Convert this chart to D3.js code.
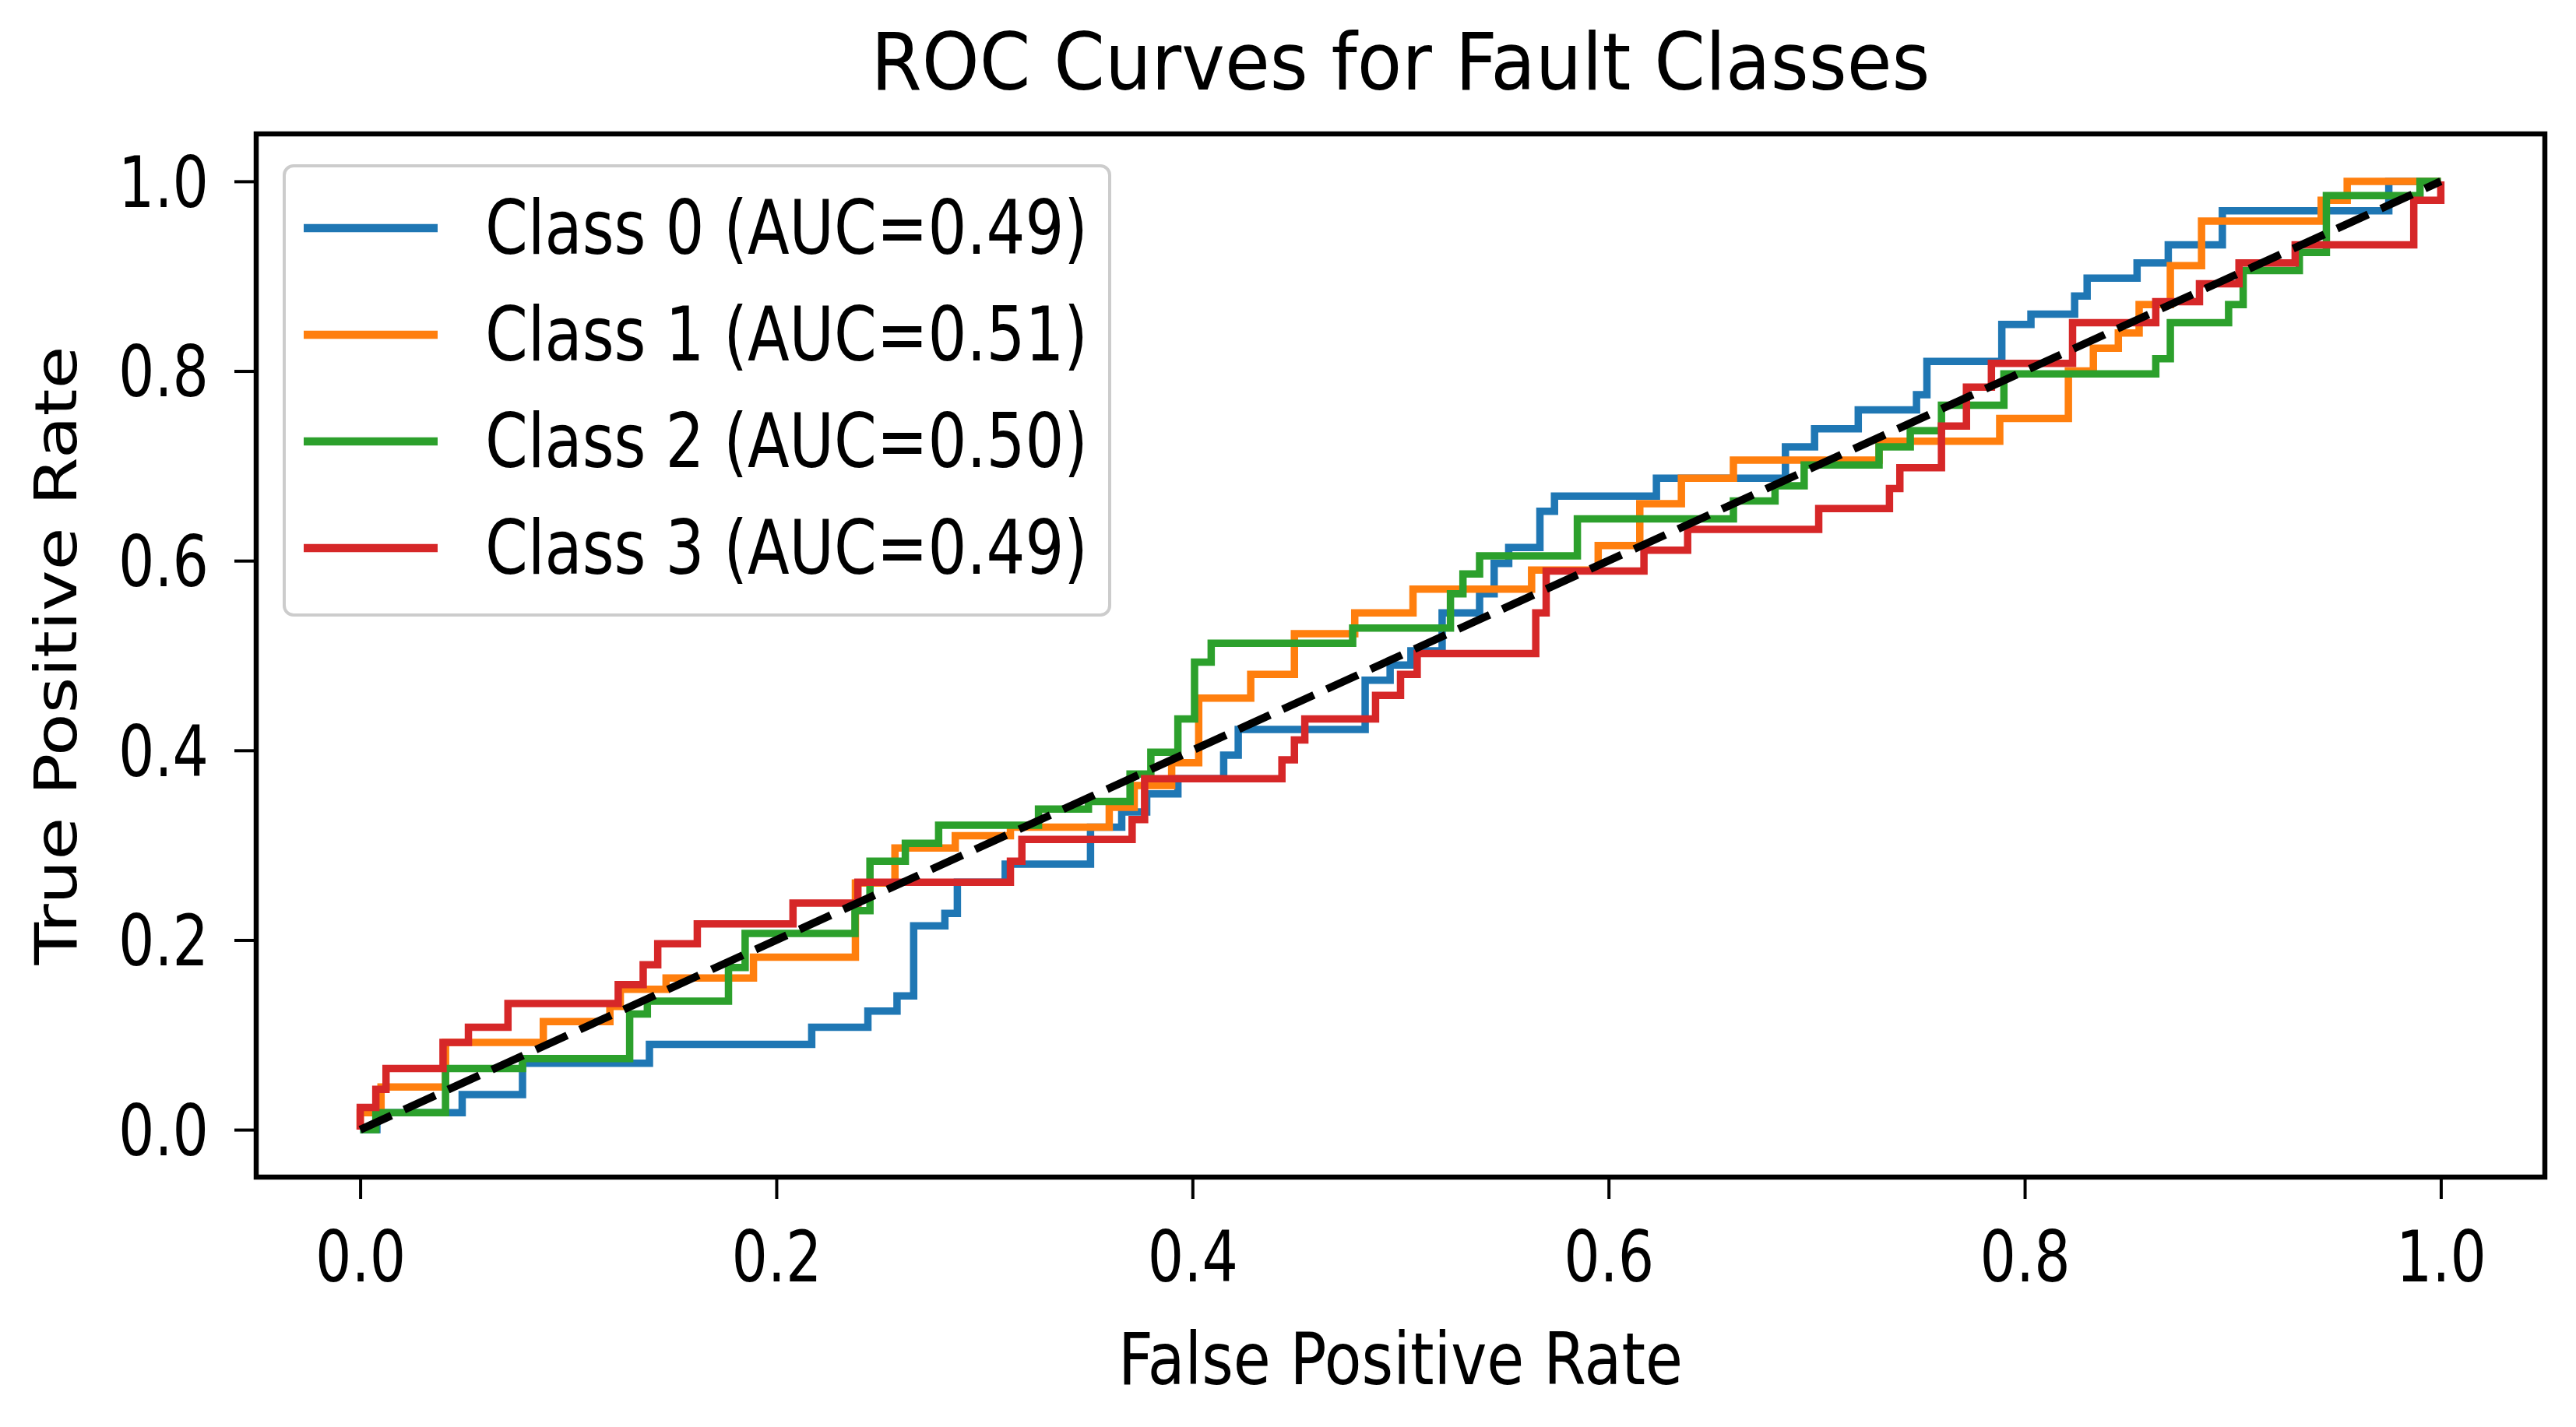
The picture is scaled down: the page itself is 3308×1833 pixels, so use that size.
<!DOCTYPE html>
<html>
<head>
<meta charset="utf-8">
<script src="https://cdn.jsdelivr.net/npm/d3@7"></script>
<style>
  html, body { margin: 0; padding: 0; background: #ffffff; }
  svg { display: block; }
  text { font-family: "DejaVu Sans", sans-serif; fill: #000; }
</style>
</head>
<body>
<svg id="chart" width="3308" height="1833"></svg>
<script>
// ---------- data (step ROC curves: at each xs[i] the curve jumps up to ys[i]) ----------
const classNames = ["Class 0 (AUC=0.49)", "Class 1 (AUC=0.51)", "Class 2 (AUC=0.50)", "Class 3 (AUC=0.49)"];
const classColors = ["#1f77b4", "#ff7f0e", "#2ca02c", "#d62728"];

const class0Fpr = [0.008, 0.049, 0.078, 0.139, 0.217, 0.244, 0.258, 0.266, 0.281, 0.287, 0.31, 0.351, 0.366, 0.378, 0.393, 0.415, 0.422, 0.483, 0.495, 0.505, 0.52, 0.538, 0.545, 0.552, 0.567, 0.574, 0.623, 0.685, 0.699, 0.72, 0.748, 0.753, 0.789, 0.803, 0.824, 0.83, 0.854, 0.869, 0.895, 0.975];
const class0Tpr = [0.018, 0.037, 0.070, 0.09, 0.108, 0.125, 0.141, 0.215, 0.228, 0.261, 0.280, 0.319, 0.335, 0.354, 0.37, 0.395, 0.422, 0.474, 0.49, 0.505, 0.545, 0.565, 0.597, 0.614, 0.652, 0.668, 0.687, 0.72, 0.739, 0.759, 0.775, 0.810, 0.849, 0.860, 0.879, 0.898, 0.914, 0.933, 0.969, 1.0];

const class1Fpr = [0, 0.01, 0.041, 0.088, 0.12, 0.125, 0.147, 0.189, 0.238, 0.257, 0.286, 0.3125, 0.36, 0.372, 0.39, 0.403, 0.428, 0.449, 0.478, 0.506, 0.563, 0.595, 0.615, 0.635, 0.660, 0.73, 0.788, 0.821, 0.833, 0.845, 0.855, 0.87, 0.885, 0.9425, 0.955];
const class1Tpr = [0.018, 0.045, 0.092, 0.114, 0.13, 0.148, 0.16, 0.182, 0.26, 0.297, 0.31, 0.319, 0.34, 0.363, 0.387, 0.455, 0.48, 0.523, 0.545, 0.570, 0.59, 0.616, 0.660, 0.687, 0.706, 0.726, 0.750, 0.80, 0.824, 0.84, 0.87, 0.911, 0.958, 0.98, 1.0];

const class2Fpr = [0.0075, 0.041, 0.078, 0.1295, 0.138, 0.177, 0.185, 0.2378, 0.245, 0.262, 0.278, 0.326, 0.35, 0.370, 0.380, 0.393, 0.401, 0.409, 0.477, 0.524, 0.53, 0.538, 0.585, 0.66, 0.68, 0.694, 0.73, 0.745, 0.76, 0.79, 0.863, 0.870, 0.898, 0.905, 0.932, 0.945, 0.99];
const class2Tpr = [0.018, 0.0645, 0.075, 0.122, 0.1355, 0.171, 0.207, 0.231, 0.283, 0.302, 0.321, 0.338, 0.346, 0.375, 0.398, 0.433, 0.493, 0.513, 0.529, 0.565, 0.586, 0.605, 0.644, 0.663, 0.679, 0.701, 0.72, 0.737, 0.764, 0.797, 0.813, 0.851, 0.870, 0.906, 0.925, 0.985, 1.0];

const class3Fpr = [0, 0.0075, 0.0124, 0.0398, 0.052, 0.071, 0.124, 0.136, 0.143, 0.162, 0.208, 0.2392, 0.3125, 0.318, 0.371, 0.377, 0.443, 0.449, 0.454, 0.488, 0.500, 0.508, 0.565, 0.570, 0.617, 0.638, 0.701, 0.735, 0.740, 0.760, 0.772, 0.784, 0.823, 0.863, 0.884, 0.903, 0.930, 0.987, 1.0];
const class3Tpr = [0.0235, 0.0426, 0.0645, 0.092, 0.108, 0.133, 0.153, 0.174, 0.196, 0.217, 0.239, 0.261, 0.283, 0.306, 0.327, 0.370, 0.39, 0.411, 0.433, 0.458, 0.480, 0.502, 0.545, 0.589, 0.611, 0.633, 0.655, 0.676, 0.698, 0.742, 0.783, 0.808, 0.851, 0.873, 0.892, 0.914, 0.933, 0.98, 1.0];

const chanceLine = [[0, 0], [1, 1]];
const xTicks = [0.0, 0.2, 0.4, 0.6, 0.8, 1.0];
const yTicks = [0.0, 0.2, 0.4, 0.6, 0.8, 1.0];
const titleText = "ROC Curves for Fault Classes";
const xLabelText = "False Positive Rate";
const yLabelText = "True Positive Rate";

// ---------- build step paths ----------
function stepPoints(fpr, tpr) {
  const pts = [[0, 0]];
  let prev = 0;
  for (let i = 0; i < fpr.length; i++) {
    pts.push([fpr[i], prev]);
    pts.push([fpr[i], tpr[i]]);
    prev = tpr[i];
  }
  pts.push([1, prev]);
  return pts;
}
const series = [
  stepPoints(class0Fpr, class0Tpr),
  stepPoints(class1Fpr, class1Tpr),
  stepPoints(class2Fpr, class2Tpr),
  stepPoints(class3Fpr, class3Tpr)
];

// ---------- layout ----------
const L = 329, R = 3268, T = 172, B = 1512;
const svg = d3.select("#chart");
const x = d3.scaleLinear().domain([-0.05, 1.05]).range([L, R]);
const y = d3.scaleLinear().domain([-0.05, 1.05]).range([B, T]);

const line = d3.line().x(d => x(d[0])).y(d => y(d[1]));

const plot = svg.append("g");
series.forEach((pts, i) => {
  plot.append("path")
    .attr("d", line(pts))
    .attr("fill", "none")
    .attr("stroke", classColors[i])
    .attr("stroke-width", 9.5)
    .attr("stroke-linejoin", "miter");
});
plot.append("path")
  .attr("d", line(chanceLine))
  .attr("fill", "none")
  .attr("stroke", "#000")
  .attr("stroke-width", 10)
  .attr("stroke-dasharray", "44,18");

// ---------- axes ----------
const fmt = d3.format(".1f");
const gx = svg.append("g").attr("transform", `translate(0,${B})`)
  .call(d3.axisBottom(x).tickValues(xTicks).tickSize(28).tickFormat(fmt));
gx.select(".domain").remove();
gx.selectAll(".tick line").attr("stroke", "#000").attr("stroke-width", 4);
gx.selectAll(".tick text")
  .attr("y", 134).attr("dy", 0)
  .attr("font-size", 90)
  .attr("font-family", "DejaVu Sans")
  .attr("textLength", 116).attr("lengthAdjust", "spacingAndGlyphs");

const gy = svg.append("g").attr("transform", `translate(${L},0)`)
  .call(d3.axisLeft(y).tickValues(yTicks).tickSize(28).tickFormat(fmt));
gy.select(".domain").remove();
gy.selectAll(".tick line").attr("stroke", "#000").attr("stroke-width", 4);
gy.selectAll(".tick text")
  .attr("x", -61).attr("dy", "0.36em")
  .attr("font-size", 90)
  .attr("font-family", "DejaVu Sans")
  .attr("textLength", 116).attr("lengthAdjust", "spacingAndGlyphs");

// frame
svg.append("rect")
  .attr("x", L).attr("y", T).attr("width", R - L).attr("height", B - T)
  .attr("fill", "none").attr("stroke", "#000").attr("stroke-width", 6.5);

// ---------- legend ----------
const lg = svg.append("g");
lg.append("rect")
  .attr("x", 365).attr("y", 213).attr("width", 1060).attr("height", 577)
  .attr("rx", 12).attr("ry", 12)
  .attr("fill", "#ffffff").attr("fill-opacity", 0.8)
  .attr("stroke", "#cccccc").attr("stroke-width", 4);
classNames.forEach((name, i) => {
  const cy = 293 + i * 137;
  lg.append("line")
    .attr("x1", 390).attr("x2", 562).attr("y1", cy).attr("y2", cy)
    .attr("stroke", classColors[i]).attr("stroke-width", 10.5);
  lg.append("text")
    .attr("x", 623).attr("y", cy + 33)
    .attr("font-size", 97)
    .attr("textLength", 774).attr("lengthAdjust", "spacingAndGlyphs")
    .text(name);
});

// ---------- titles ----------
svg.append("text")
  .attr("x", (L + R) / 2).attr("y", 115)
  .attr("text-anchor", "middle")
  .attr("font-size", 101)
  .attr("textLength", 1360).attr("lengthAdjust", "spacingAndGlyphs")
  .text(titleText);

svg.append("text")
  .attr("x", (L + R) / 2).attr("y", 1778)
  .attr("text-anchor", "middle")
  .attr("font-size", 92)
  .attr("textLength", 725).attr("lengthAdjust", "spacingAndGlyphs")
  .text(xLabelText);

svg.append("text")
  .attr("transform", `translate(98,${(T + B) / 2}) scale(0.8,1) rotate(-90)`)
  .attr("text-anchor", "middle")
  .attr("font-size", 94)
  .attr("textLength", 795).attr("lengthAdjust", "spacingAndGlyphs")
  .text(yLabelText);
</script>
</body>
</html>
